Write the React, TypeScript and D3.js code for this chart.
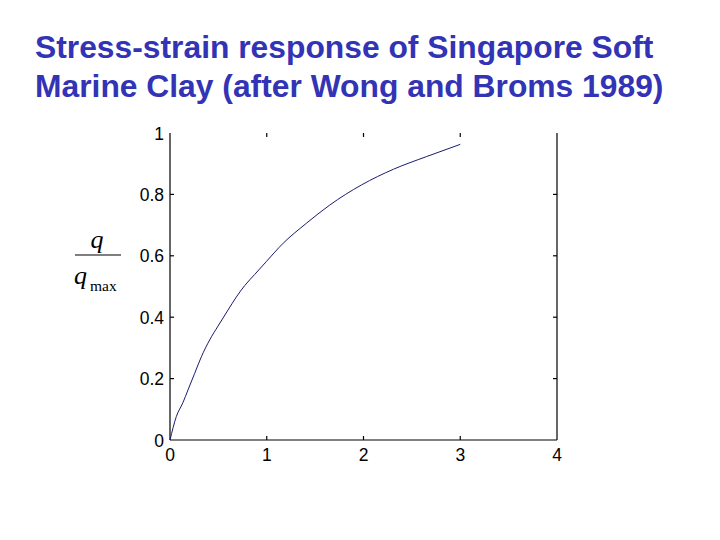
import React from "react";
import * as d3 from "d3";

const titleLines = [
  "Stress-strain response of Singapore Soft",
  "Marine Clay (after Wong and Broms 1989)",
];
const strain = [0, 0.065, 0.134, 0.186, 0.255, 0.324, 0.41, 0.496, 0.599, 0.686, 0.772, 0.875, 0.995, 1.17, 1.41, 1.65, 1.98, 2.31, 2.65, 3.0];
const qRatio = [0, 0.076, 0.122, 0.163, 0.217, 0.271, 0.326, 0.371, 0.423, 0.466, 0.503, 0.539, 0.581, 0.641, 0.706, 0.765, 0.831, 0.882, 0.923, 0.963];
const xTicks = [0, 1, 2, 3, 4];
const yTicks = [0, 0.2, 0.4, 0.6, 0.8, 1];

export default function App() {
  const W = 720, H = 540;
  const x = d3.scaleLinear().domain([0, 4]).range([170, 557]);
  const y = d3.scaleLinear().domain([0, 1]).range([440, 133]);
  const pts = strain.map((s, i) => [s, qRatio[i]] as [number, number]);
  const line = d3.line<[number, number]>().x(d => x(d[0])).y(d => y(d[1])).curve(d3.curveMonotoneX);
  const tl = 4;
  const sans = "'Liberation Sans', Arial, sans-serif";
  const serif = "'Liberation Serif', 'Times New Roman', serif";
  return (
    <svg width={W} height={H} style={{ position: "absolute", left: 0, top: 0, background: "#fff" }}>
      {titleLines.map((t, i) => (
        <text key={i} x={35} y={58 + i * 39} fontFamily={sans} fontWeight="bold" fontSize={31.8} fill="#3333b5">{t}</text>
      ))}
      <g stroke="#000" strokeWidth={1.2} fill="none">
        <line x1={x(0)} y1={y(1)} x2={x(0)} y2={y(0)} />
        <line x1={x(0)} y1={y(0)} x2={x(4)} y2={y(0)} />
        <line x1={x(4)} y1={y(1)} x2={x(4)} y2={y(0)} />
        {xTicks.slice(1, -1).map(t => (
          <g key={"xt" + t}>
            <line x1={x(t)} x2={x(t)} y1={y(0)} y2={y(0) - tl} />
            <line x1={x(t)} x2={x(t)} y1={y(1)} y2={y(1) + tl} />
          </g>
        ))}
        {yTicks.slice(1, -1).map(t => (
          <g key={"yt" + t}>
            <line x1={x(0)} x2={x(0) + tl} y1={y(t)} y2={y(t)} />
            <line x1={x(4)} x2={x(4) - tl} y1={y(t)} y2={y(t)} />
          </g>
        ))}
      </g>
      {xTicks.map(t => (
        <text key={"xl" + t} x={x(t)} y={y(0) + 21} textAnchor="middle" fontFamily={sans} fontSize={17.5} fill="#000">{t}</text>
      ))}
      {yTicks.map(t => (
        <text key={"yl" + t} x={x(0) - 6} y={y(t) + 6.5} textAnchor="end" fontFamily={sans} fontSize={17.5} fill="#000">{t}</text>
      ))}
      <path d={line(pts) ?? ""} fill="none" stroke="#1a1a70" strokeWidth={1} />
      <g fontFamily={serif} fill="#000">
        <text x={97} y={248} textAnchor="middle" fontStyle="italic" fontSize={26}>q</text>
        <line x1={75} x2={121} y1={255} y2={255} stroke="#000" strokeWidth={1.2} />
        <text x={74} y={284} fontStyle="italic" fontSize={26}>q</text>
        <text x={90} y={291} fontSize={15.5}>max</text>
      </g>
    </svg>
  );
}
